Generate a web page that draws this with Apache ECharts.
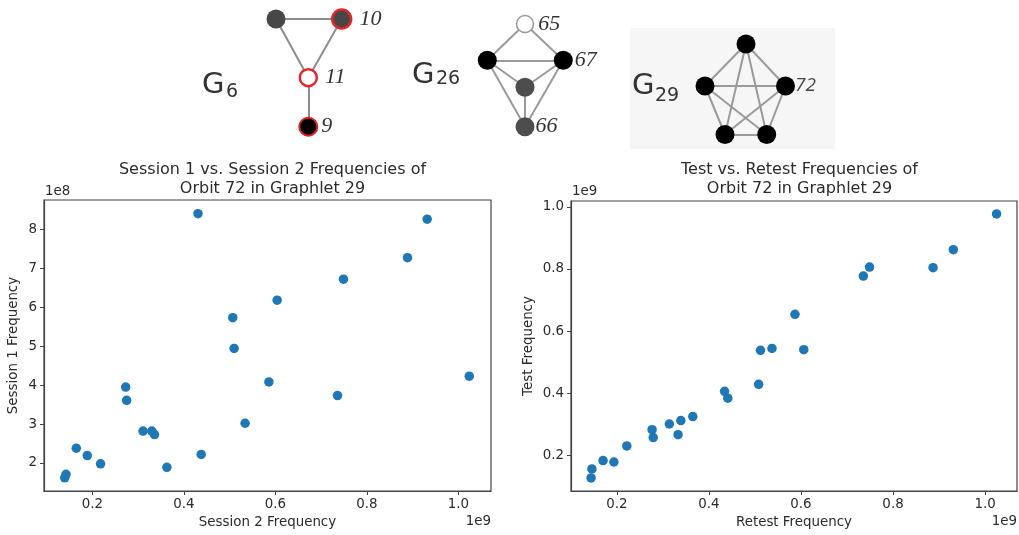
<!DOCTYPE html>
<html>
<head>
<meta charset="utf-8">
<script src="https://cdn.jsdelivr.net/npm/echarts@6/dist/echarts.min.js"></script>
<style>html,body{margin:0;padding:0;background:#fff}#c{width:1019px;height:535px}</style>
</head>
<body>
<div id="c"></div>
<script>
// ---- Data (x in units of 1e9, y in units of 1e8 / 1e9 as shown by the offset texts) ----
const session2Freq = [0.431,0.932,0.889,0.749,0.604,0.507,0.510,1.024,0.586,0.736,0.273,0.275,0.534,0.311,0.330,0.336,0.165,0.189,0.218,0.438,0.363,0.1425,0.1397];
const session1Freq = [8.40,8.26,7.27,6.72,6.18,5.73,4.94,4.23,4.08,3.73,3.95,3.61,3.02,2.82,2.82,2.73,2.38,2.19,1.98,2.22,1.89,1.71,1.62];
const retestFreq = [1.025,0.931,0.887,0.7355,0.749,0.587,0.512,0.537,0.606,0.508,0.434,0.441,0.365,0.339,0.314,0.333,0.2765,0.279,0.2216,0.170,0.1935,0.1457,0.144];
const testFreq   = [0.977,0.862,0.804,0.777,0.806,0.654,0.538,0.544,0.540,0.4285,0.406,0.384,0.3245,0.3116,0.3007,0.2665,0.2826,0.257,0.230,0.183,0.1784,0.156,0.127];

const leftXTicks = [0.2,0.4,0.6,0.8,1.0];
const leftYTicks = [2,3,4,5,6,7,8];
const rightXTicks = [0.2,0.4,0.6,0.8,1.0];
const rightYTicks = [0.2,0.4,0.6,0.8,1.0];

// Graphlet topology
const g6Nodes = ['a','10','11','9'];
const g6Edges = [['a','10'],['a','11'],['10','11'],['11','9']];
const g26Nodes = ['65','l','67','m','66'];
const g26Edges = [['65','l'],['65','67'],['l','67'],['l','m'],['67','m'],['l','66'],['67','66'],['m','66']];
const g29Nodes = ['t','l','72','bl','br'];
const g29Edges = [['t','l'],['t','72'],['t','bl'],['t','br'],['l','72'],['l','bl'],['l','br'],['72','bl'],['72','br'],['bl','br']];

// ---- Layout / styling (not data) ----
const g6Layout = {a:[276,19],'10':[341.7,19],'11':[308.3,77.7],'9':[308.3,126.7]};
const g26Layout = {'65':[525,24],l:[487.3,60.3],'67':[563.3,60.3],m:[525,87.3],'66':[525,126.7]};
const g29Layout = {t:[746,44],l:[705,86],'72':[785.5,86],bl:[725,134.5],br:[766.7,134.5]};

const TXT = '#2b2b2b';
const FRAME = '#444';
const DOT = '#1f77b4';
const FONT = 'DejaVu Sans';
const FS = 13.4;

function numLabel(size, dist, font, color, style) {
  return {show:true, position:'right', distance:dist, fontFamily:font, fontStyle:style||'italic',
          fontSize:size, color:color||'#333', formatter:'{b}'};
}
const serifLbl = (d)=>numLabel(22, d, 'Liberation Serif', '#333');

const g6Style = {
  a:{size:19, itemStyle:{color:'#474747'}},
  '10':{size:19, itemStyle:{color:'#474747', borderColor:'#e3262b', borderWidth:2.5}, label:serifLbl(7)},
  '11':{size:17, itemStyle:{color:'#fff', borderColor:'#e3262b', borderWidth:2.5}, label:serifLbl(7)},
  '9':{size:18, itemStyle:{color:'#000', borderColor:'#d22', borderWidth:2}, label:serifLbl(3)}
};
const g26Style = {
  '65':{size:17, itemStyle:{color:'#fff', borderColor:'#999', borderWidth:1.5}, label:serifLbl(4)},
  l:{size:19, itemStyle:{color:'#000'}},
  '67':{size:19, itemStyle:{color:'#000'}, label:serifLbl(2)},
  m:{size:19, itemStyle:{color:'#4d4d4d'}},
  '66':{size:19, itemStyle:{color:'#4d4d4d'}, label:serifLbl(1)}
};
const g29Style = {
  t:{size:19,itemStyle:{color:'#000'}}, l:{size:19,itemStyle:{color:'#000'}},
  '72':{size:19,itemStyle:{color:'#000'}, label:numLabel(19, 0, 'Open Sans', '#444', 'italic')},
  bl:{size:19,itemStyle:{color:'#000'}}, br:{size:19,itemStyle:{color:'#000'}}
};

function graphSeries(nodes, edges, layout, style, edgeColor) {
  const xs = nodes.map(n=>layout[n][0]), ys = nodes.map(n=>layout[n][1]);
  const minX = Math.min(...xs), maxX = Math.max(...xs), minY = Math.min(...ys), maxY = Math.max(...ys);
  return {
    type:'graph', layout:'none', silent:true, roam:false, animation:false,
    left:minX, top:minY, width:maxX-minX, height:maxY-minY,
    data: nodes.map(n=>({
      name:n, x:layout[n][0], y:layout[n][1], symbolSize:style[n].size,
      itemStyle:style[n].itemStyle, label: style[n].label || {show:false}
    })),
    links: edges.map(e=>({source:e[0], target:e[1]})),
    lineStyle:{color:edgeColor, width:2, opacity:1, curveness:0},
    z:3
  };
}

function valAxisX(gridIndex, min, max, ticks, name) {
  return {
    type:'value', gridIndex, min, max, name, nameLocation:'middle', nameGap:24,
    nameTextStyle:{fontFamily:FONT, fontSize:FS, color:TXT},
    splitLine:{show:false},
    axisLine:{show:true, lineStyle:{color:FRAME, width:1.2}},
    axisTick:{show:true, length:4, lineStyle:{color:FRAME, width:1}, customValues:ticks},
    axisLabel:{fontFamily:FONT, fontSize:FS, color:TXT, margin:7, customValues:ticks,
               formatter:(v)=>v.toFixed(1)}
  };
}
function valAxisY(gridIndex, min, max, ticks, name, gap, fmt) {
  return {
    type:'value', gridIndex, min, max, name, nameLocation:'middle', nameGap:gap, nameRotate:90,
    nameTextStyle:{fontFamily:FONT, fontSize:FS, color:TXT},
    splitLine:{show:false},
    axisLine:{show:true, lineStyle:{color:FRAME, width:1.2}},
    axisTick:{show:true, length:4, lineStyle:{color:FRAME, width:1}, customValues:ticks},
    axisLabel:{fontFamily:FONT, fontSize:FS, color:TXT, margin:7, customValues:ticks, formatter:fmt}
  };
}

const offFont = FS + 'px "DejaVu Sans"';
const chart = echarts.init(document.getElementById('c'), null, {renderer:'canvas'});
chart.setOption({
  animation:false,
  backgroundColor:'#fff',
  title:[
    {text:'Session 1 vs. Session 2 Frequencies of\nOrbit 72 in Graphlet 29', left:267.5, top:156, textAlign:'center',
     textStyle:{fontFamily:FONT, fontSize:16, fontWeight:'normal', color:TXT, lineHeight:18.5}},
    {text:'Test vs. Retest Frequencies of\nOrbit 72 in Graphlet 29', left:794.5, top:156, textAlign:'center',
     textStyle:{fontFamily:FONT, fontSize:16, fontWeight:'normal', color:TXT, lineHeight:18.5}}
  ],
  grid:[
    {left:44, top:200, width:447, height:291, show:true, borderColor:FRAME, borderWidth:1.2, backgroundColor:'transparent'},
    {left:571, top:201, width:446, height:290, show:true, borderColor:FRAME, borderWidth:1.2, backgroundColor:'transparent'}
  ],
  xAxis:[
    valAxisX(0, 0.0944, 1.0715, leftXTicks, 'Session 2 Frequency'),
    valAxisX(1, 0.1003, 1.0694, rightXTicks, 'Retest Frequency')
  ],
  yAxis:[
    valAxisY(0, 1.281, 8.752, leftYTicks, 'Session 1 Frequency', 24, (v)=>String(Math.round(v))),
    valAxisY(1, 0.085, 1.0187, rightYTicks, 'Test Frequency', 36, (v)=>v.toFixed(1))
  ],
  graphic:[
    {type:'rect', shape:{x:630, y:28, width:205, height:121}, style:{fill:'#f6f6f6'}, z:-1, silent:true},
    {type:'text', left:45, top:185, style:{text:'1e8', font:offFont, fill:TXT}},
    {type:'text', left:572, top:185, style:{text:'1e9', font:offFont, fill:TXT}},
    {type:'text', right:528, top:515, style:{text:'1e9', font:offFont, fill:TXT}},
    {type:'text', right:2, top:515, style:{text:'1e9', font:offFont, fill:TXT}},
    {type:'text', left:202, top:71, style:{text:'G', font:'29px "DejaVu Sans"', fill:'#333'}},
    {type:'text', left:226, top:83, style:{text:'6', font:'19px "DejaVu Sans"', fill:'#333'}},
    {type:'text', left:412, top:61, style:{text:'G', font:'29px "DejaVu Sans"', fill:'#333'}},
    {type:'text', left:436, top:70, style:{text:'26', font:'19px "DejaVu Sans"', fill:'#333'}},
    {type:'text', left:632, top:72, style:{text:'G', font:'29px "DejaVu Sans"', fill:'#333'}},
    {type:'text', left:655, top:87, style:{text:'29', font:'19px "DejaVu Sans"', fill:'#333'}}
  ],
  series:[
    {type:'scatter', xAxisIndex:0, yAxisIndex:0, symbolSize:9.5, itemStyle:{color:DOT, opacity:1},
     data: session2Freq.map((x,i)=>[x, session1Freq[i]])},
    {type:'scatter', xAxisIndex:1, yAxisIndex:1, symbolSize:9.5, itemStyle:{color:DOT, opacity:1},
     data: retestFreq.map((x,i)=>[x, testFreq[i]])},
    graphSeries(g6Nodes, g6Edges, g6Layout, g6Style, '#8c8c8c'),
    graphSeries(g26Nodes, g26Edges, g26Layout, g26Style, '#9a9a9a'),
    graphSeries(g29Nodes, g29Edges, g29Layout, g29Style, '#9a9a9a')
  ]
});
</script>
</body>
</html>
